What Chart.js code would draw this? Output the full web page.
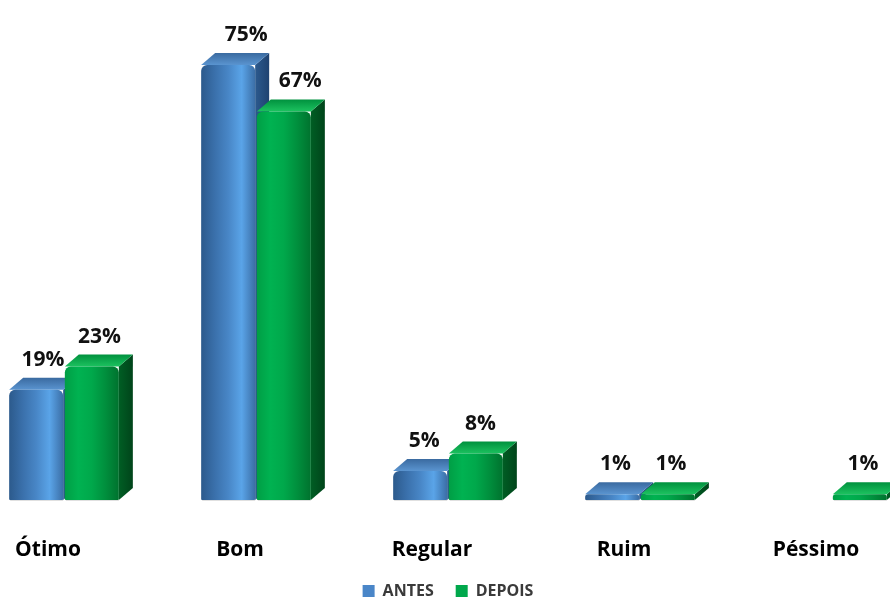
<!DOCTYPE html>
<html>
<head>
<meta charset="utf-8">
<script src="https://cdn.jsdelivr.net/npm/chart.js@4.4.1/dist/chart.umd.min.js"></script>
<style>
  html, body { margin: 0; padding: 0; background: #fff; overflow: hidden; }
  #wrap { width: 890px; height: 597px; }
</style>
</head>
<body>
<div id="wrap"><canvas id="avaliacao"></canvas></div>
<script>
// Avaliação antes / depois (percentual)
const categorias = ["Ótimo", "Bom", "Regular", "Ruim", "Péssimo"];
const antes = [19, 75, 5, 1, 0];
const depois = [23, 67, 8, 1, 1];
const series = ["ANTES", "DEPOIS"];

// profundidade das faces 3D
const DX = 14, DY = 12;
const FONTE = "'Open Sans', 'DejaVu Sans', sans-serif";

const paletas = [
  { base: "#4a86c8", front: ["#2c5a8c", "#3a70ab", "#4886c6", "#5aa4e8", "#3b6ea6"],
    top: ["#5a94d0", "#3a6aa0"], side: ["#2c5a8e", "#1f4270"] },
  { base: "#00a84c", front: ["#009e45", "#00b251", "#00a84b", "#008f3d", "#00722e"],
    top: ["#1cc25f", "#00913e"], side: ["#005e24", "#00441a"] },
];

function gradH(ctx, x0, x1, cores) {
  const g = ctx.createLinearGradient(x0, 0, x1, 0);
  cores.forEach((c, i) => g.addColorStop(i / (cores.length - 1), c));
  return g;
}

function desenhaBarra(ctx, el, p) {
  const l = el.x - el.width / 2, r = el.x + el.width / 2;
  const t = el.y, b = el.base;
  const h = b - t;
  const rad = Math.min(6, h / 2);
  ctx.save();

  // face lateral
  ctx.beginPath();
  ctx.moveTo(r, t);
  ctx.lineTo(r + DX, t - DY);
  ctx.lineTo(r + DX, b - DY);
  ctx.lineTo(r, b);
  ctx.closePath();
  ctx.fillStyle = gradH(ctx, r, r + DX, p.side);
  ctx.fill();

  // face superior
  ctx.beginPath();
  ctx.moveTo(l, t);
  ctx.lineTo(l + DX, t - DY);
  ctx.lineTo(r + DX, t - DY);
  ctx.lineTo(r, t);
  ctx.closePath();
  const gt = ctx.createLinearGradient(0, t, 0, t - DY);
  gt.addColorStop(0, p.top[0]);
  gt.addColorStop(1, p.top[1]);
  ctx.fillStyle = gt;
  ctx.fill();

  // face frontal
  ctx.beginPath();
  ctx.roundRect(l, t, r - l, h, [rad, rad, 1, 1]);
  ctx.fillStyle = gradH(ctx, l, r, p.front);
  ctx.fill();

  // sombra leve no chão
  ctx.fillStyle = "rgba(0,0,0,0.12)";
  ctx.fillRect(l + 1, b, r - l - 1, 1);
  ctx.restore();
}

const barras3d = {
  id: "barras3d",
  beforeDatasetsDraw(chart) {
    const ctx = chart.ctx;
    const dsets = chart.data.datasets;
    const metas = dsets.map((d, i) => chart.getDatasetMeta(i));

    // desenha por categoria: ANTES e depois DEPOIS, para a sobreposição correta
    for (let i = 0; i < chart.data.labels.length; i++) {
      metas.forEach((meta, d) => {
        if (!dsets[d].data[i]) return;
        desenhaBarra(ctx, meta.data[i], paletas[d]);
      });
    }

    // rótulos de valor
    ctx.save();
    ctx.font = "bold 21px " + FONTE;
    ctx.fillStyle = "#111";
    ctx.textAlign = "center";
    ctx.textBaseline = "alphabetic";
    metas.forEach((meta, d) => {
      dsets[d].data.forEach((v, i) => {
        if (!v) return;
        const el = meta.data[i];
        ctx.fillText(v + "%", el.x + 3 + v * 0.2, el.y - 24);
      });
    });
    ctx.restore();
    return false;
  }
};

new Chart(document.getElementById("avaliacao"), {
  type: "bar",
  data: {
    labels: categorias,
    datasets: [
      { label: series[0], data: antes, backgroundColor: paletas[0].base },
      { label: series[1], data: depois, backgroundColor: paletas[1].base },
    ],
  },
  options: {
    responsive: true,
    maintainAspectRatio: false,
    animation: false,
    layout: { padding: { top: 36, left: 64, right: 58, bottom: 0 } },
    categoryPercentage: 0.58,
    barPercentage: 0.97,
    scales: {
      x: {
        offset: false,
        grid: { display: false, drawTicks: false },
        border: { display: false },
        ticks: {
          color: "#000",
          font: { family: FONTE, size: 21, weight: "bold" },
          padding: 37,
          labelOffset: -16,
          maxRotation: 0,
          autoSkip: false,
        },
        afterFit(scale) {
          scale.height = 61;
          scale.paddingLeft = 0;
          scale.paddingRight = 0;
        },
      },
      y: { display: false, min: 0, max: 80 },
    },
    plugins: {
      tooltip: { enabled: false },
      legend: {
        position: "bottom",
        maxHeight: 36,
        labels: {
          color: "#3a3a3a",
          font: { family: FONTE, size: 16, weight: "bold" },
          boxWidth: 12,
          boxHeight: 12,
          padding: 22,
        },
      },
    },
  },
  plugins: [barras3d],
});
</script>
</body>
</html>
